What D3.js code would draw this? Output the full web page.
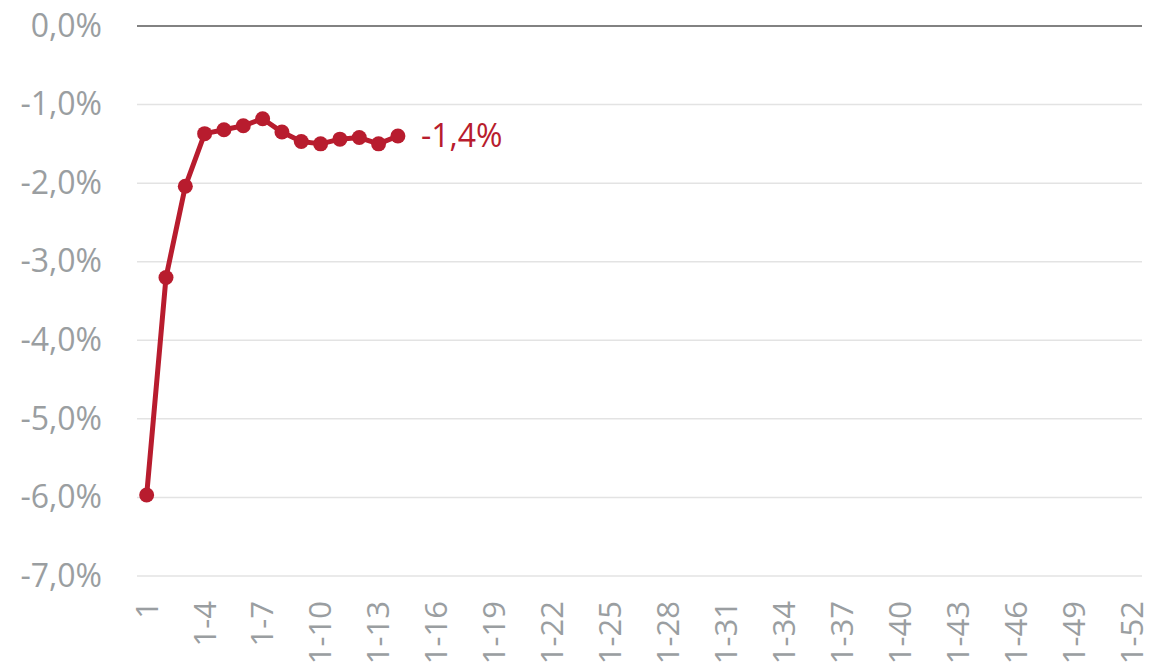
<!DOCTYPE html>
<html><head><meta charset="utf-8">
<script src="https://cdn.jsdelivr.net/npm/d3@7"></script>
<style>body{margin:0;background:#fff;} svg{display:block;}</style>
</head><body>
<svg id="c" width="1150" height="667"></svg>
<script>
const categories = d3.range(1, 53).map(i => i === 1 ? "1" : "1-" + i);
const values = [-5.97, -3.20, -2.04, -1.37, -1.32, -1.27, -1.18, -1.35, -1.47, -1.50, -1.44, -1.42, -1.50, -1.40];
const yTicks = [0, -1, -2, -3, -4, -5, -6, -7];
const xTickLabels = categories.filter((d, i) => i % 3 === 0);
const lastLabel = "-1,4%";

const svg = d3.select("#c");
const m = {left: 137, right: 8, top: 26, bottom: 91};
const W = 1150, H = 667;
const x = d3.scaleBand().domain(categories).range([m.left, W - m.right]);
const y = d3.scaleLinear().domain([-7, 0]).range([H - m.bottom, m.top]);
const font = "'Open Sans', sans-serif";
const gray = "#9a9ea1";
const red = "#b81c2e";

const fmt = v => d3.format(".1f")(v).replace(".", ",").replace("−", "-") + "%";

// gridlines
svg.append("g").selectAll("line").data(yTicks).join("line")
  .attr("x1", m.left).attr("x2", W - m.right)
  .attr("y1", d => y(d)).attr("y2", d => y(d))
  .attr("stroke", d => d === 0 ? "#595959" : "#e3e3e3")
  .attr("stroke-width", 1.5);

// y axis
const ya = svg.append("g").attr("transform", `translate(${m.left},0)`)
  .call(d3.axisLeft(y).tickValues(yTicks).tickFormat(fmt).tickSize(0).tickPadding(35));
ya.select(".domain").remove();
ya.selectAll("text").attr("font-family", font).attr("font-size", 32).attr("fill", gray);

// x axis
const xa = svg.append("g").attr("transform", `translate(0,${H - m.bottom})`)
  .call(d3.axisBottom(x).tickValues(xTickLabels).tickSize(0).tickPadding(0));
xa.select(".domain").remove();
xa.selectAll("text")
  .attr("font-family", font).attr("font-size", 31).attr("fill", gray)
  .attr("transform", "rotate(-90)")
  .attr("text-anchor", "end")
  .attr("x", -25).attr("y", 0).attr("dy", "0.35em");

const pts = values.map((v, i) => ({c: categories[i], v}));
const cx = d => x(d.c) + x.bandwidth() / 2;

svg.append("path").datum(pts)
  .attr("fill", "none").attr("stroke", red).attr("stroke-width", 5)
  .attr("stroke-linejoin", "round")
  .attr("d", d3.line().x(cx).y(d => y(d.v)));

svg.append("g").selectAll("circle").data(pts).join("circle")
  .attr("cx", cx).attr("cy", d => y(d.v)).attr("r", 7.5).attr("fill", red);

const last = pts[pts.length - 1];
svg.append("text").attr("x", cx(last) + 23).attr("y", y(last.v))
  .attr("dy", "0.35em").attr("font-family", font).attr("font-size", 32)
  .attr("fill", red).text(lastLabel);
</script>
</body></html>
